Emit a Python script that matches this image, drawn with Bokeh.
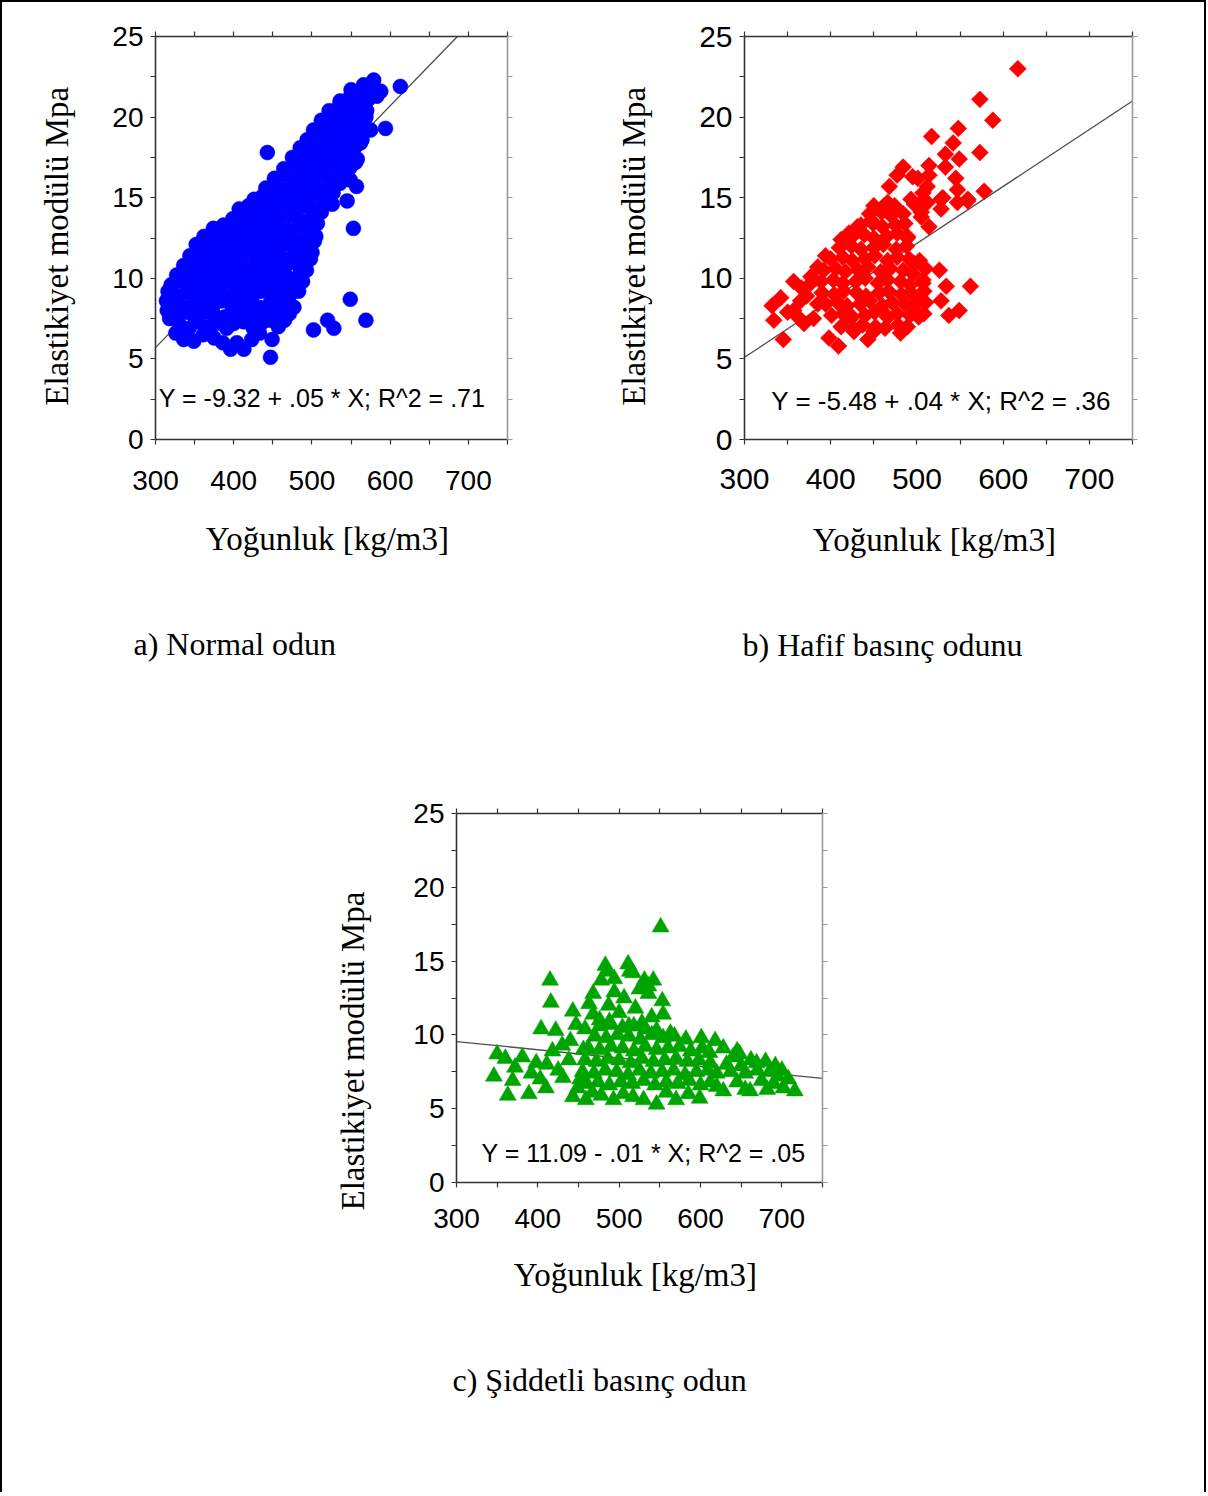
import math
from bokeh.plotting import figure
from bokeh.models import Range1d, LinearAxis, FixedTicker, Label, Title
from bokeh.layouts import column, row
from bokeh.embed import file_html
from bokeh.resources import INLINE

# ---------------- data ----------------
X_MAJOR = [300, 400, 500, 600, 700]
X_MINOR = [350, 450, 550, 650, 750]
Y_MAJOR = [0, 5, 10, 15, 20, 25]
Y_MINOR = [2.5, 7.5, 12.5, 17.5, 22.5]

X_LABEL = "Yoğunluk  [kg/m3]"
Y_LABEL = "Elastikiyet  modülü  Mpa"

# a) Normal odun  (density kg/m3, modulus MPa)
normal_points = [
    (326, 6.6), (336, 6.2), (349, 6.1), (361, 6.5), (375, 6.3), (386, 6.0), (396, 5.6), (404, 6.0), (413, 5.6), (423, 6.2), (433, 6.6), (447, 5.1), (449, 6.2),
    (318, 7.5), (331, 7.1), (343, 6.9), (353, 7.3), (367, 7.0), (377, 7.2), (391, 6.9), (400, 7.2), (413, 7.3), (425, 6.9), (435, 7.2), (446, 7.4), (457, 7.0), (465, 7.4),
    (315, 8.0), (326, 7.7), (340, 7.9), (350, 7.6), (364, 7.9), (374, 7.8), (388, 7.6), (398, 8.0), (411, 7.8), (422, 7.6), (436, 7.9), (446, 7.7), (459, 7.9), (471, 7.8),
    (314, 8.6), (327, 8.4), (337, 8.2), (351, 8.5), (361, 8.3), (375, 8.4), (385, 8.6), (399, 8.3), (409, 8.5), (423, 8.4), (433, 8.2), (447, 8.5), (457, 8.3), (469, 8.5), (477, 8.2),
    (316, 9.2), (328, 8.9), (341, 9.1), (351, 8.9), (365, 9.0), (375, 9.2), (389, 8.9), (401, 9.1), (411, 8.9), (425, 9.0), (435, 9.2), (449, 8.9), (461, 9.1), (471, 8.9), (483, 9.2),
    (320, 9.6), (333, 9.8), (343, 9.5), (357, 9.7), (367, 9.5), (381, 9.6), (391, 9.8), (405, 9.5), (415, 9.7), (429, 9.5), (439, 9.7), (453, 9.6), (463, 9.4), (477, 9.7), (488, 9.8),
    (327, 10.2), (341, 10.3), (351, 10.1), (365, 10.3), (375, 10.2), (389, 10.0), (399, 10.3), (413, 10.2), (423, 10.0), (437, 10.3), (447, 10.1), (461, 10.2), (471, 10.0), (485, 10.3), (493, 10.5),
    (336, 10.8), (347, 10.9), (361, 10.7), (371, 10.9), (385, 10.8), (395, 10.6), (409, 10.9), (419, 10.7), (433, 10.8), (443, 10.9), (457, 10.6), (467, 10.8), (481, 10.9), (491, 10.7), (498, 11.2),
    (344, 11.4), (357, 11.5), (367, 11.3), (381, 11.5), (391, 11.3), (405, 11.4), (415, 11.6), (429, 11.3), (439, 11.5), (453, 11.4), (463, 11.2), (477, 11.5), (487, 11.3), (500, 11.6),
    (352, 12.1), (365, 12.0), (375, 12.2), (389, 11.9), (399, 12.1), (413, 12.0), (423, 11.8), (437, 12.1), (447, 11.9), (461, 12.0), (471, 12.2), (485, 11.9), (495, 12.1), (503, 12.3),
    (362, 12.6), (375, 12.7), (385, 12.5), (399, 12.7), (409, 12.5), (423, 12.6), (433, 12.8), (447, 12.5), (457, 12.7), (471, 12.6), (481, 12.4), (495, 12.7), (505, 12.6),
    (374, 13.1), (387, 13.3), (397, 13.1), (411, 13.2), (421, 13.4), (435, 13.1), (445, 13.3), (459, 13.2), (469, 13.0), (483, 13.3), (493, 13.1), (507, 13.4),
    (399, 13.7), (409, 13.9), (423, 13.7), (433, 13.8), (447, 14.0), (457, 13.7), (471, 13.9), (481, 13.8), (495, 13.6), (505, 13.9), (512, 14.1),
    (407, 14.3), (419, 14.5), (431, 14.3), (443, 14.5), (455, 14.4), (467, 14.6), (479, 14.3), (491, 14.5), (503, 14.3), (515, 14.5),
    (426, 14.9), (437, 15.1), (449, 15.0), (461, 15.2), (473, 14.9), (485, 15.1), (497, 15.0), (509, 15.2), (521, 15.0), (527, 15.3),
    (441, 15.6), (453, 15.8), (465, 15.5), (477, 15.7), (489, 15.6), (501, 15.8), (513, 15.5), (525, 15.7), (536, 15.9),
    (452, 16.2), (465, 16.4), (477, 16.1), (489, 16.3), (501, 16.2), (513, 16.4), (525, 16.1), (537, 16.3), (549, 16.1),
    (464, 16.8), (477, 17.0), (489, 16.7), (501, 16.9), (513, 16.8), (525, 17.0), (537, 16.7), (549, 16.9), (556, 17.2),
    (475, 17.5), (487, 17.4), (499, 17.6), (511, 17.3), (523, 17.5), (535, 17.4), (547, 17.6), (558, 17.4),
    (485, 18.1), (497, 18.0), (509, 18.2), (521, 17.9), (533, 18.1), (545, 18.0), (556, 18.2), (562, 18.4),
    (494, 18.6), (506, 18.8), (518, 18.5), (530, 18.7), (542, 18.6), (554, 18.8), (564, 18.6),
    (502, 19.2), (514, 19.4), (526, 19.1), (538, 19.3), (550, 19.2), (561, 19.4), (566, 19.7),
    (512, 19.8), (524, 20.0), (536, 19.7), (548, 19.9), (560, 19.8), (569, 20.0),
    (522, 20.4), (534, 20.6), (546, 20.3), (558, 20.5), (570, 20.4),
    (536, 21.0), (548, 21.2), (560, 20.9), (572, 21.1), (583, 21.3),
    (550, 21.7), (562, 21.6), (574, 21.9), (588, 21.6),
    (566, 22.0), (579, 22.3),
    (613, 21.9), (575, 19.2), (594, 19.3), (443, 17.8), (557, 15.7), (545, 14.8), (526, 14.6),
    (553, 13.1), (549, 8.7), (569, 7.4), (520, 7.4), (528, 6.9), (502, 6.8),
]

# b) Hafif basınç odunu
light_points = [
    (412, 7.0), (426, 6.9), (437, 7.1), (452, 7.0), (463, 6.9), (478, 7.1), (489, 7.0),
    (401, 7.7), (414, 7.8), (425, 7.6), (440, 7.7), (451, 7.9), (466, 7.6), (477, 7.8), (492, 7.7), (502, 7.6),
    (394, 8.4), (408, 8.5), (419, 8.3), (434, 8.4), (445, 8.6), (460, 8.3), (471, 8.5), (486, 8.4), (497, 8.3), (510, 8.5),
    (390, 9.1), (404, 9.0), (415, 9.2), (430, 9.1), (441, 8.9), (456, 9.1), (467, 9.2), (482, 9.0), (493, 9.1), (508, 9.2),
    (389, 9.8), (403, 9.9), (414, 9.7), (429, 9.8), (440, 10.0), (455, 9.7), (466, 9.9), (481, 9.8), (492, 9.6), (507, 9.9),
    (392, 10.5), (406, 10.6), (417, 10.4), (432, 10.5), (443, 10.7), (458, 10.4), (469, 10.6), (484, 10.5), (495, 10.3), (510, 10.6),
    (400, 11.2), (414, 11.3), (425, 11.1), (440, 11.2), (451, 11.4), (466, 11.1), (477, 11.3), (491, 11.2), (503, 11.1),
    (410, 11.9), (424, 12.0), (435, 11.8), (450, 11.9), (461, 12.1), (476, 11.8), (488, 12.0),
    (425, 12.6), (439, 12.7), (450, 12.5), (465, 12.6), (477, 12.8), (489, 12.5),
    (435, 13.3), (449, 13.4), (460, 13.2), (475, 13.3), (486, 13.4),
    (445, 14.0), (459, 14.1), (470, 13.9), (484, 14.0),
    (332, 8.3), (334, 7.4), (345, 6.2), (357, 9.8), (357, 8.0), (365, 8.6), (369, 7.2), (377, 10.1), (377, 9.7),
    (385, 10.7), (385, 8.4), (394, 11.4), (398, 6.3), (409, 5.8), (412, 12.4), (419, 7.6), (427, 6.7), (421, 12.8),
    (431, 13.2), (443, 6.2), (450, 6.7), (466, 7.6), (481, 6.6), (489, 12.6), (497, 10.9), (501, 8.6), (507, 9.7),
    (508, 7.8), (514, 13.2), (526, 10.5), (528, 8.6), (534, 9.5), (537, 7.7), (549, 8.0), (562, 9.5), (505, 14.1),
    (350, 7.9), (362, 7.6), (372, 8.9), (380, 7.5), (342, 8.8), (366, 9.4),
    (450, 14.5), (466, 14.7), (497, 14.6), (512, 14.7), (528, 14.3), (547, 14.7), (559, 14.8), (505, 13.8), (447, 13.6),
    (477, 16.4), (484, 16.9), (495, 16.3), (501, 16.2), (514, 17.0), (514, 16.4), (512, 15.7), (507, 15.3), (493, 14.9),
    (505, 14.7), (468, 15.7), (462, 14.5), (474, 14.5), (528, 14.9), (533, 17.7), (533, 16.9), (542, 18.4), (548, 19.3),
    (549, 17.4), (545, 16.2), (547, 15.5), (559, 14.9), (573, 17.8), (573, 21.1), (588, 19.8), (578, 15.4), (617, 23.0),
    (517, 18.8), (530, 15.0),
]

# c) Şiddetli basınç odun
severe_points = [
    (346, 7.2), (350, 8.7), (360, 8.4), (363, 5.9), (369, 6.9), (372, 7.8), (381, 8.5), (389, 6.0), (392, 7.4), (398, 8.1),
    (404, 10.4), (410, 6.4), (415, 13.7), (416, 12.2), (422, 10.3), (418, 8.9), (425, 7.6), (431, 7.1), (443, 11.6), (443, 5.8),
    (440, 9.6), (438, 8.3), (447, 10.7), (452, 7.0), (459, 5.6), (456, 9.0), (449, 6.4), (430, 9.3), (411, 8.0), (403, 7.0),
    (551, 17.3), (483, 14.7), (511, 14.8), (494, 13.8), (517, 14.2), (478, 13.7), (531, 13.7), (542, 13.7), (525, 13.1),
    (468, 12.8), (506, 12.5), (553, 12.3), (536, 12.8), (554, 11.4), (468, 11.4), (494, 12.9), (463, 12.1), (487, 12.0),
    (520, 11.8), (540, 11.2), (500, 11.5), (476, 11.0), (528, 10.8), (512, 10.6), (458, 10.4), (488, 10.9), (546, 10.3),
    (563, 10.1), (485, 14.3), (513, 14.3), (536, 13.3),
    (467, 6.1), (478, 5.9), (493, 5.6), (505, 6.0), (517, 5.8), (530, 5.6), (546, 5.3), (558, 6.1), (570, 5.6), (585, 6.0), (599, 5.7),
    (460, 6.7), (474, 6.8), (488, 6.6), (502, 6.8), (516, 6.7), (530, 6.9), (544, 6.6), (558, 6.8), (572, 6.7), (586, 6.9), (600, 6.6), (612, 6.8),
    (455, 7.5), (469, 7.4), (483, 7.6), (497, 7.5), (511, 7.3), (525, 7.6), (539, 7.4), (553, 7.5), (567, 7.6), (581, 7.3), (595, 7.5), (609, 7.6), (620, 7.4),
    (458, 8.3), (472, 8.2), (486, 8.4), (500, 8.3), (514, 8.1), (528, 8.4), (542, 8.2), (556, 8.3), (570, 8.4), (584, 8.2), (598, 8.3), (612, 8.1),
    (462, 9.1), (476, 9.0), (490, 9.2), (504, 9.1), (518, 8.9), (532, 9.2), (546, 9.0), (560, 9.1), (574, 9.2), (588, 8.9), (602, 9.1),
    (470, 9.9), (484, 9.8), (498, 10.0), (512, 9.9), (526, 9.7), (540, 10.0), (554, 9.8), (568, 9.9), (582, 9.7), (601, 9.8),
    (476, 10.6), (490, 10.7), (504, 10.5), (518, 10.6), (532, 10.4),
    (628, 9.1), (611, 8.8), (648, 8.7), (669, 8.1), (685, 7.5), (700, 7.6), (702, 6.4), (716, 6.2), (661, 6.2), (628, 6.2),
    (637, 7.5), (645, 6.8), (655, 7.4), (662, 8.3), (675, 6.9), (690, 6.7), (708, 7.0), (680, 8.2), (692, 7.9), (640, 8.5),
    (655, 6.3), (670, 7.6), (620, 6.5), (632, 8.0), (650, 7.9), (682, 6.3), (695, 7.2), (645, 8.9), (618, 9.6),
]

# fitted lines as drawn (end points)
fit_a_x, fit_a_y = [300, 686], [5.7, 25.0]
fit_b_x, fit_b_y = [300, 750], [5.1, 21.0]
fit_c_x, fit_c_y = [300, 750], [9.55, 7.05]

eq_a = "Y = -9.32 + .05 * X; R^2 = .71"
eq_b = "Y = -5.48 + .04 * X; R^2 = .36"
eq_c = "Y = 11.09 - .01 * X; R^2 = .05"

cap_a = "a) Normal odun"
cap_b = "b) Hafif basınç odunu"
cap_c = "c) Şiddetli basınç odun"

# ---------------- styling ----------------
SANS = "'Liberation Sans', Arial, sans-serif"
SERIF = "'Liberation Serif', 'Times New Roman', serif"
DARK = "#333333"
GREY = "#9a9a9a"


def style_axis(ax, major, minor, color, show, font_px=26, standoff=6):
    ax.ticker = FixedTicker(ticks=major, minor_ticks=minor)
    ax.major_tick_out = 5
    ax.major_tick_in = 0
    ax.minor_tick_out = 5
    ax.minor_tick_in = 0
    ax.axis_line_color = color
    ax.axis_line_width = 1.6
    ax.major_tick_line_color = color
    ax.minor_tick_line_color = color
    ax.major_tick_line_width = 1.2
    ax.minor_tick_line_width = 1.2
    if show:
        ax.major_label_text_font = SANS
        ax.major_label_text_font_size = f"{font_px}px"
        ax.major_label_text_color = "black"
        ax.major_label_standoff = standoff
    else:
        ax.major_label_text_font_size = "1px"
        ax.major_label_text_color = None
        ax.major_label_standoff = 0


def make_panel(points, marker, color, size, angle, fx, fy, eq, eq_x, eq_y, eq_px,
               caption, cap_off, cap_std, width, height, ml, mr, mt, mb,
               tick_px, x_std, y_std, xlab_std, ylab_std, ylab_offset=None):
    xs = [p[0] for p in points]
    ys = [p[1] for p in points]
    p = figure(width=width, height=height, x_range=Range1d(300, 750), y_range=Range1d(0, 25),
               output_backend="svg", toolbar_location=None,
               min_border_left=ml, min_border_right=mr, min_border_top=mt, min_border_bottom=mb)
    p.outline_line_color = None
    p.xgrid.visible = False
    p.ygrid.visible = False
    p.background_fill_color = "white"
    p.border_fill_color = "white"

    xa = p.xaxis[0]
    ya = p.yaxis[0]
    style_axis(xa, X_MAJOR, X_MINOR, DARK, True, tick_px, x_std)
    style_axis(ya, Y_MAJOR, Y_MINOR, DARK, True, tick_px, y_std)
    xa.axis_label = X_LABEL
    axes = [(xa, xlab_std)]
    if ylab_offset is None:
        ya.axis_label = Y_LABEL
        axes.append((ya, ylab_std))
    for ax, sd in axes:
        ax.axis_label_text_font = SERIF
        ax.axis_label_text_font_size = "33px"
        ax.axis_label_text_font_style = "normal"
        ax.axis_label_text_color = "black"
        ax.axis_label_standoff = sd

    top = LinearAxis()
    style_axis(top, X_MAJOR, X_MINOR, DARK, False)
    p.add_layout(top, "above")
    right = LinearAxis()
    style_axis(right, Y_MAJOR, Y_MINOR, GREY, False)
    p.add_layout(right, "right")

    if ylab_offset is not None:
        ylab = Title(text=Y_LABEL, align="left", offset=ylab_offset, standoff=ylab_std,
                     text_font=SERIF, text_font_size="33px", text_font_style="normal",
                     text_color="black")
        p.add_layout(ylab, "left")

    p.line(fx, fy, line_color="#4d4d4d", line_width=1.3)
    p.scatter(xs, ys, marker=marker, size=size, angle=angle,
              fill_color=color, line_color=color, line_width=0.5)

    p.add_layout(Label(x=eq_x, y=eq_y, text=eq, text_align="center", text_baseline="middle",
                       text_font=SANS, text_font_size=f"{eq_px}px", text_color="black"))
    cap = Title(text=caption, align="left", offset=cap_off, standoff=cap_std,
                text_font=SERIF, text_font_size="32px", text_font_style="normal",
                text_color="black")
    p.add_layout(cap, "below")
    return p


pa = make_panel(normal_points, "circle", "#0000FF", 15, 0.0, fit_a_x, fit_a_y,
                eq_a, 513, 2.6, 25, cap_a, -22, 128,
                598, 727, 153, 93, 34, 290, 28, 26, 7, 28, 34)
pb = make_panel(light_points, "square", "#FF0000", 12, math.pi / 4, fit_b_x, fit_b_y,
                eq_b, 528, 2.4, 26, cap_b, -2, 128,
                604, 727, 144, 72, 34, 290, 30, 24, 7, 30, 44)
pc = make_panel(severe_points, "triangle", "#00A400", 17, 0.0, fit_c_x, fit_c_y,
                eq_c, 530, 2.0, 25, cap_c, -4, 128,
                1202, 763, 454, 382, 84, 310, 28, 21, 7, 26, 80, ylab_offset=-28)

layout = column(row(pa, pb), pc,
                styles={"border": "2px solid black", "border-bottom": "none"})

open("out.html", "w").write(file_html(layout, INLINE))
